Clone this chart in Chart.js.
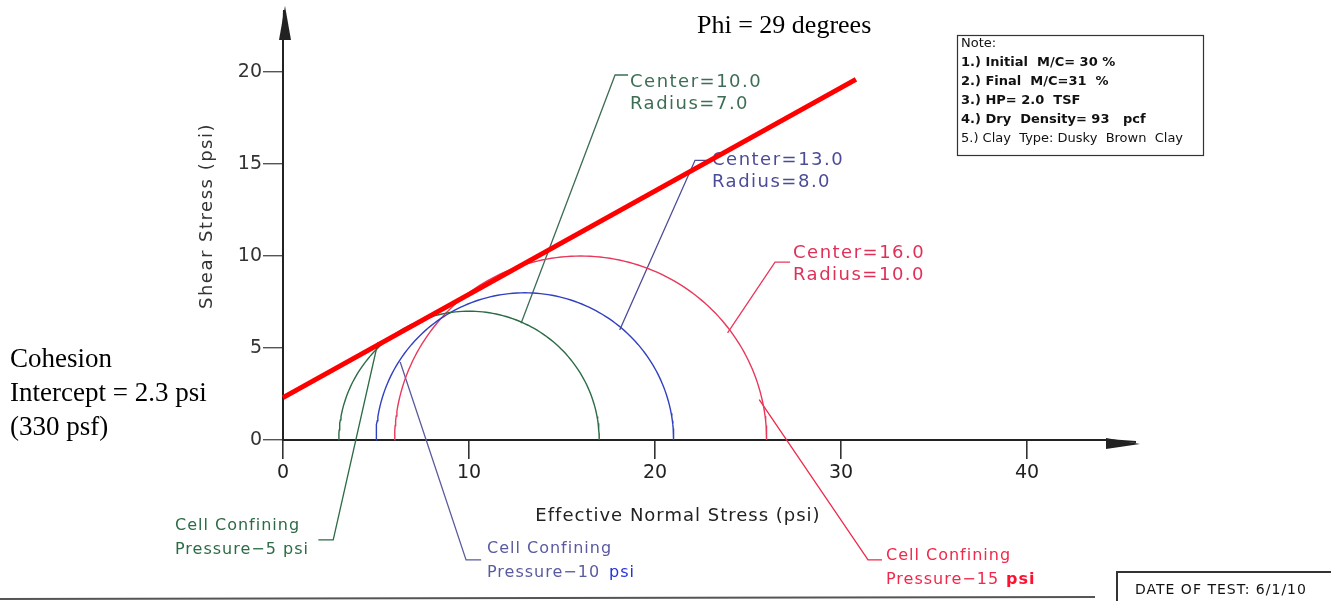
<!DOCTYPE html>
<html>
<head>
<meta charset="utf-8">
<script src="https://cdn.jsdelivr.net/npm/chart.js@4"></script>
<style>
  body { margin: 0; background: #fff; }
  #wrap { width: 1331px; height: 601px; }
</style>
</head>
<body>
<div id="wrap"><canvas id="mohrChart" width="1331" height="601"></canvas></div>
<script>
// Mohr circles (psi)
const circleCenters = [10.0, 13.0, 16.0];
const circleRadii = [7.0, 8.0, 10.0];
const circleColors = ["#2b6b45", "#3140c0", "#e8385c"];

// failure envelope, c = 2.3 psi, phi = 29 deg
const envelopeX = [0, 30.8];
const envelopeY = [2.3, 19.6];

const xTicks = [0, 10, 20, 30, 40];
const yTicks = [0, 5, 10, 15, 20];

// leader lines for the callouts, in psi units
const leaders = [
  { color: "#3d6e55", pts: [[12.8, 6.35], [17.85, 19.84], [18.55, 19.84]] },
  { color: "#4b4b98", pts: [[18.1, 5.98], [22.15, 15.2], [22.96, 15.2]] },
  { color: "#e8385c", pts: [[23.9, 5.82], [26.45, 9.67], [27.26, 9.67]] },
  { color: "#2b6b45", pts: [[5.1, 5.3], [2.7, -5.43], [1.9, -5.43]] },
  { color: "#5a5aa0", pts: [[6.3, 4.24], [9.84, -6.52], [10.65, -6.52]] },
  { color: "#f0284a", pts: [[25.6, 2.2], [31.45, -6.52], [32.2, -6.52]] },
];

function semicircle(c, r) {
  const pts = [];
  for (let i = 0; i <= 120; i++) {
    const a = Math.PI * i / 120;
    pts.push({ x: c - r * Math.cos(a), y: r * Math.sin(a) });
  }
  return pts;
}

const cad = "'DejaVu Sans', sans-serif";
const serif = "'Liberation Serif', 'Times New Roman', serif";

function text(ctx, str, x, y, font, color, spacing) {
  ctx.font = font;
  ctx.fillStyle = color;
  ctx.letterSpacing = (spacing || 0) + "px";
  ctx.fillText(str, x, y);
  ctx.letterSpacing = "0px";
}

const annotate = {
  id: "annotate",
  beforeDatasetsDraw(chart) {
    const { ctx, scales: { x, y } } = chart;
    ctx.save();
    ctx.lineWidth = 1.3;
    leaders.forEach(l => {
      ctx.strokeStyle = l.color;
      ctx.beginPath();
      l.pts.forEach(([a, b], i) => {
        const px = x.getPixelForValue(a), py = y.getPixelForValue(b);
        if (i === 0) ctx.moveTo(px, py); else ctx.lineTo(px, py);
      });
      ctx.stroke();
    });

    ctx.textBaseline = "middle";
    ctx.textAlign = "left";
    const f = "18px " + cad;
    text(ctx, "Center=10.0", 630, 82, f, "#3d6e55", 1.5);
    text(ctx, "Radius=7.0", 630, 104, f, "#3d6e55", 1.5);
    text(ctx, "Center=13.0", 712, 160, f, "#4b4b98", 1.5);
    text(ctx, "Radius=8.0", 712, 182, f, "#4b4b98", 1.5);
    text(ctx, "Center=16.0", 793, 253, f, "#e03058", 1.5);
    text(ctx, "Radius=10.0", 793, 275, f, "#e03058", 1.5);

    const g = "16px " + cad;
    text(ctx, "Cell Confining", 175, 526, g, "#2b6b45", 1);
    text(ctx, "Pressure\u22125 psi", 175, 550, g, "#2b6b45", 1);
    text(ctx, "Cell Confining", 487, 549, g, "#5a5aa0", 1);
    text(ctx, "Pressure\u221210", 487, 573, g, "#5a5aa0", 1);
    text(ctx, "psi", 609, 573, g, "#2233dd", 1);
    text(ctx, "Cell Confining", 886, 556, g, "#f0284a", 1);
    text(ctx, "Pressure\u221215", 886, 580, g, "#f0284a", 1);
    text(ctx, "psi", 1006, 580, "bold 16px " + cad, "#ff1030", 1);
    ctx.restore();
  },
  afterDraw(chart) {
    const { ctx, scales: { x, y } } = chart;
    ctx.save();
    // axis arrows
    const x0 = x.getPixelForValue(0), y0 = y.getPixelForValue(0);
    const yTop = y.getPixelForValue(y.max), xEnd = x.getPixelForValue(x.max);
    ctx.fillStyle = "#222";
    ctx.strokeStyle = "#222";
    ctx.lineWidth = 2;
    ctx.beginPath();
    ctx.moveTo(x0, yTop); ctx.lineTo(x0 + 1, yTop - 28); ctx.stroke();
    ctx.beginPath();
    ctx.moveTo(x0 + 2, yTop - 32); ctx.lineTo(x0 - 4, yTop + 2); ctx.lineTo(x0 + 8, yTop + 2);
    ctx.closePath(); ctx.fill();
    ctx.beginPath();
    ctx.moveTo(xEnd, y0); ctx.lineTo(xEnd + 28, y0 + 2); ctx.stroke();
    ctx.beginPath();
    ctx.moveTo(xEnd + 32, y0 + 4); ctx.lineTo(xEnd - 2, y0 - 2); ctx.lineTo(xEnd - 2, y0 + 9);
    ctx.closePath(); ctx.fill();

    // axis titles
    ctx.textBaseline = "middle";
    ctx.textAlign = "center";
    text(ctx, "Effective Normal Stress (psi)", 678, 516, "18px " + cad, "#222", 1);
    ctx.save();
    ctx.translate(207, 216);
    ctx.rotate(-Math.PI / 2);
    text(ctx, "Shear Stress (psi)", 0, 0, "18px " + cad, "#333", 1.5);
    ctx.restore();

    // serif notes
    ctx.textAlign = "left";
    text(ctx, "Phi = 29 degrees", 697, 26, "26px " + serif, "#000");
    text(ctx, "Cohesion", 10, 360, "27px " + serif, "#000");
    text(ctx, "Intercept = 2.3 psi", 10, 394, "27px " + serif, "#000");
    text(ctx, "(330 psf)", 10, 428, "27px " + serif, "#000");

    // note box
    ctx.strokeStyle = "#333";
    ctx.lineWidth = 1.2;
    ctx.strokeRect(957.5, 35.5, 246, 120);
    const notes = ["Note:", "1.) Initial  M/C= 30 %", "2.) Final  M/C=31  %", "3.) HP= 2.0  TSF",
      "4.) Dry  Density= 93   pcf", "5.) Clay  Type: Dusky  Brown  Clay"];
    notes.forEach((n, i) => {
      text(ctx, n, 961, 44 + i * 19, (i > 0 && i < 5 ? "bold " : "") + "13px " + cad, "#111", 0);
    });

    // date box
    ctx.lineWidth = 2;
    ctx.beginPath();
    ctx.moveTo(1117, 601); ctx.lineTo(1117, 572); ctx.lineTo(1331, 572);
    ctx.stroke();
    text(ctx, "DATE OF TEST: 6/1/10", 1135, 590, "14px " + cad, "#111", 1);

    // scan edge
    ctx.strokeStyle = "#555";
    ctx.lineWidth = 2;
    ctx.beginPath(); ctx.moveTo(0, 599); ctx.lineTo(1095, 597); ctx.stroke();
    ctx.restore();
  }
};

const datasets = [{
  label: "Failure envelope",
  data: envelopeX.map((v, i) => ({ x: v, y: envelopeY[i] })),
  borderColor: "#ff0000",
  borderWidth: 5,
  order: 0,
}];
circleCenters.forEach((c, i) => {
  datasets.push({
    label: "Center=" + c.toFixed(1),
    data: semicircle(c, circleRadii[i]),
    borderColor: circleColors[i],
    borderWidth: 1.4,
    order: 1,
  });
});

new Chart(document.getElementById("mohrChart").getContext("2d"), {
  type: "scatter",
  data: { datasets },
  options: {
    responsive: false,
    animation: false,
    layout: { padding: { left: 238, right: 223, top: 38, bottom: 161 } },
    elements: { point: { radius: 0 }, line: { tension: 0 } },
    datasets: { scatter: { showLine: true, clip: false } },
    plugins: { legend: { display: false }, tooltip: { enabled: false } },
    scales: {
      x: {
        type: "linear",
        position: { y: 0 },
        min: 0,
        max: 44.35,
        afterBuildTicks: s => { s.ticks = xTicks.map(v => ({ value: v })); },
        ticks: { color: "#222", font: { family: cad, size: 19 }, padding: 4 },
        grid: { drawOnChartArea: false, tickLength: 18, color: "#333", lineWidth: 1.6 },
        border: { color: "#222", width: 2 },
      },
      y: {
        type: "linear",
        position: "left",
        min: 0,
        max: 21.85,
        afterBuildTicks: s => { s.ticks = yTicks.map(v => ({ value: v })); },
        afterFit: s => { s.width = 45; },
        ticks: { color: "#333", font: { family: cad, size: 19 }, padding: 1 },
        grid: { drawOnChartArea: false, tickLength: 20, color: "#555", lineWidth: 1.4 },
        border: { color: "#222", width: 2 },
      },
    },
  },
  plugins: [annotate],
});
</script>
</body>
</html>
